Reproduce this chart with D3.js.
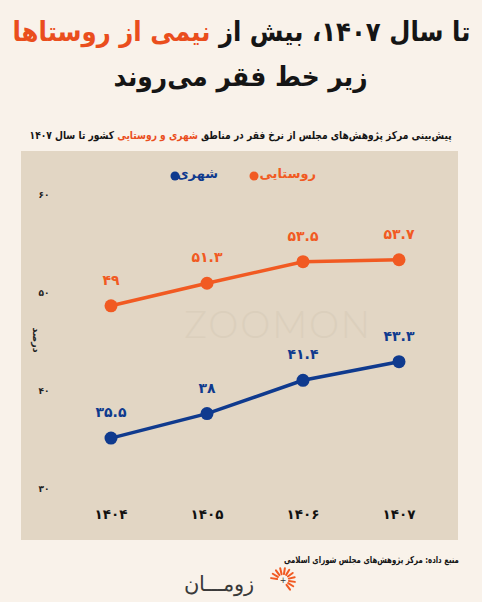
<!DOCTYPE html>
<html>
<head>
<meta charset="utf-8">
<script src="https://cdn.jsdelivr.net/npm/d3@7"></script>
<style>
  html, body { margin: 0; padding: 0; }
  body { width: 482px; height: 602px; background: #f9f2ea; position: relative; overflow: hidden; font-family: "DejaVu Sans", sans-serif; }
  .txt { position: absolute; direction: rtl; font-weight: bold; color: #151515; white-space: nowrap; }
  .hl { color: #ea4e1d; }
  svg { position: absolute; left: 0; top: 0; }
</style>
</head>
<body>
<script>
// داده‌ها
const YEARS   = [1404, 1405, 1406, 1407];
const RURAL   = [49, 51.3, 53.5, 53.7];
const URBAN   = [35.5, 38, 41.4, 43.3];
const Y_TICKS = [30, 40, 50, 60];
const SERIES_NAMES = ["روستایی", "شهری"];

const ORANGE = "#f15a22";
const BLUE   = "#0f3a8e";

const fa = v => String(v).replace(/\d/g, d => "۰۱۲۳۴۵۶۷۸۹"[d]);

const W = 482, H = 602;
const body = d3.select("body");

const svg = body.append("svg").attr("width", W).attr("height", H);

// متن‌های HTML با عرض مشخص (فشرده‌سازی افقی)
function addText(html, { cx, right, top, size, width }) {
  const d = body.append("div").attr("class","txt")
    .style("top", top + "px").style("font-size", size + "px").html(html);
  const w = d.node().getBoundingClientRect().width;
  const k = width / w;
  if (right != null) {
    d.style("right", (W - right) + "px").style("transform-origin","right center");
  } else {
    d.style("left", (cx - w / 2) + "px").style("transform-origin","center center");
  }
  d.style("transform", `scaleX(${k})`);
  return d;
}

// عنوان
addText(`تا سال ${fa(1407)}، بیش از <span class="hl">نیمی از روستاها</span>`, { cx: 241, top: 16, size: 27, width: 458 });
addText(`زیر خط فقر می‌روند`, { cx: 241, top: 61, size: 27, width: 254 });
addText(`پیش‌بینی مرکز پژوهش‌های مجلس از نرخ فقر در مناطق <span class="hl">شهری و روستایی</span> کشور تا سال ${fa(1407)}`,
  { cx: 241, top: 129, size: 11, width: 422 });
addText("منبع داده: مرکز پژوهش‌های مجلس شورای اسلامی", { right: 459, top: 554, size: 9.5, width: 175 });

// پنل
const panel = { x: 21, y: 151, w: 437, h: 389 };
svg.append("rect").attr("x", panel.x).attr("y", panel.y).attr("width", panel.w).attr("height", panel.h)
  .attr("fill", "#e2d6c4");

// واترمارک
svg.append("text").attr("x", 278).attr("y", 338).attr("text-anchor","middle")
  .attr("font-family","Lato, 'DejaVu Sans', sans-serif").attr("font-size", 38).attr("font-weight", 300)
  .attr("fill","#d6cab7").attr("opacity",0.55).attr("letter-spacing", 2).text("ZOOMON");

const x = d3.scalePoint().domain(YEARS).range([111, 399]);
const y = d3.scaleLinear().domain([30, 60]).range([492, 198]);

// محور Y
svg.append("g").selectAll("text").data(Y_TICKS).join("text")
  .attr("x", 44).attr("y", d => y(d) - 3).attr("dy","0.35em").attr("text-anchor","middle")
  .attr("font-size", 9).attr("font-weight","bold").attr("fill","#222").text(d => fa(d));

svg.append("text").attr("transform","translate(33,340) rotate(90)").attr("text-anchor","middle")
  .attr("font-size", 9.5).attr("font-weight","bold").attr("fill","#222").text("درصد");

// محور X
svg.append("g").selectAll("text").data(YEARS).join("text")
  .attr("x", d => x(d)).attr("y", 514).attr("dy","0.35em").attr("text-anchor","middle")
  .attr("font-size", 13.5).attr("font-weight","bold").attr("fill","#111").text(d => fa(d));

// خطوط
const series = [
  { name: SERIES_NAMES[0], values: RURAL, color: ORANGE },
  { name: SERIES_NAMES[1], values: URBAN, color: BLUE }
];
const line = d3.line().x((d,i) => x(YEARS[i])).y(d => y(d));

series.forEach(s => {
  const g = svg.append("g");
  g.append("path").attr("d", line(s.values)).attr("fill","none")
    .attr("stroke", s.color).attr("stroke-width", 3.5);
  g.selectAll("circle").data(s.values).join("circle")
    .attr("cx", (d,i) => x(YEARS[i])).attr("cy", d => y(d)).attr("r", 6.5).attr("fill", s.color);
  g.selectAll("text").data(s.values).join("text")
    .attr("x", (d,i) => x(YEARS[i])).attr("y", d => y(d) - 21).attr("text-anchor","middle")
    .attr("font-size", 14).attr("font-weight","bold").attr("fill", s.color).text(d => fa(d));
});

// راهنما
const legend = [
  { name: SERIES_NAMES[0], color: ORANGE, right: 316, dot: 254 },
  { name: SERIES_NAMES[1], color: BLUE, right: 218, dot: 175 }
];
legend.forEach(l => {
  svg.append("text").attr("x", l.right).attr("y", 178).attr("text-anchor","end")
    .attr("font-size", 13).attr("font-weight","bold").attr("fill", l.color).text(l.name);
  svg.append("circle").attr("cx", l.dot).attr("cy", 176).attr("r", 4.5).attr("fill", l.color);
});

// لوگو
svg.append("text").attr("x", 254).attr("y", 591).attr("text-anchor","end")
  .attr("font-size", 21).attr("font-weight", 300).attr("fill","#3a3a3a").text("زومـــان");
const logo = svg.append("g").attr("transform","translate(283,580)");
d3.range(11).forEach(i => {
  const a = -Math.PI * 0.95 + i * (Math.PI * 1.25 / 10);
  logo.append("line")
    .attr("x1", Math.cos(a) * 6).attr("y1", Math.sin(a) * 6)
    .attr("x2", Math.cos(a) * 12).attr("y2", Math.sin(a) * 12)
    .attr("stroke", ORANGE).attr("stroke-width", 2).attr("stroke-linecap","round");
});
logo.append("text").attr("x",0).attr("y",3).attr("text-anchor","middle").attr("font-size",8)
  .attr("fill","#333").text("+");
</script>
</body>
</html>
